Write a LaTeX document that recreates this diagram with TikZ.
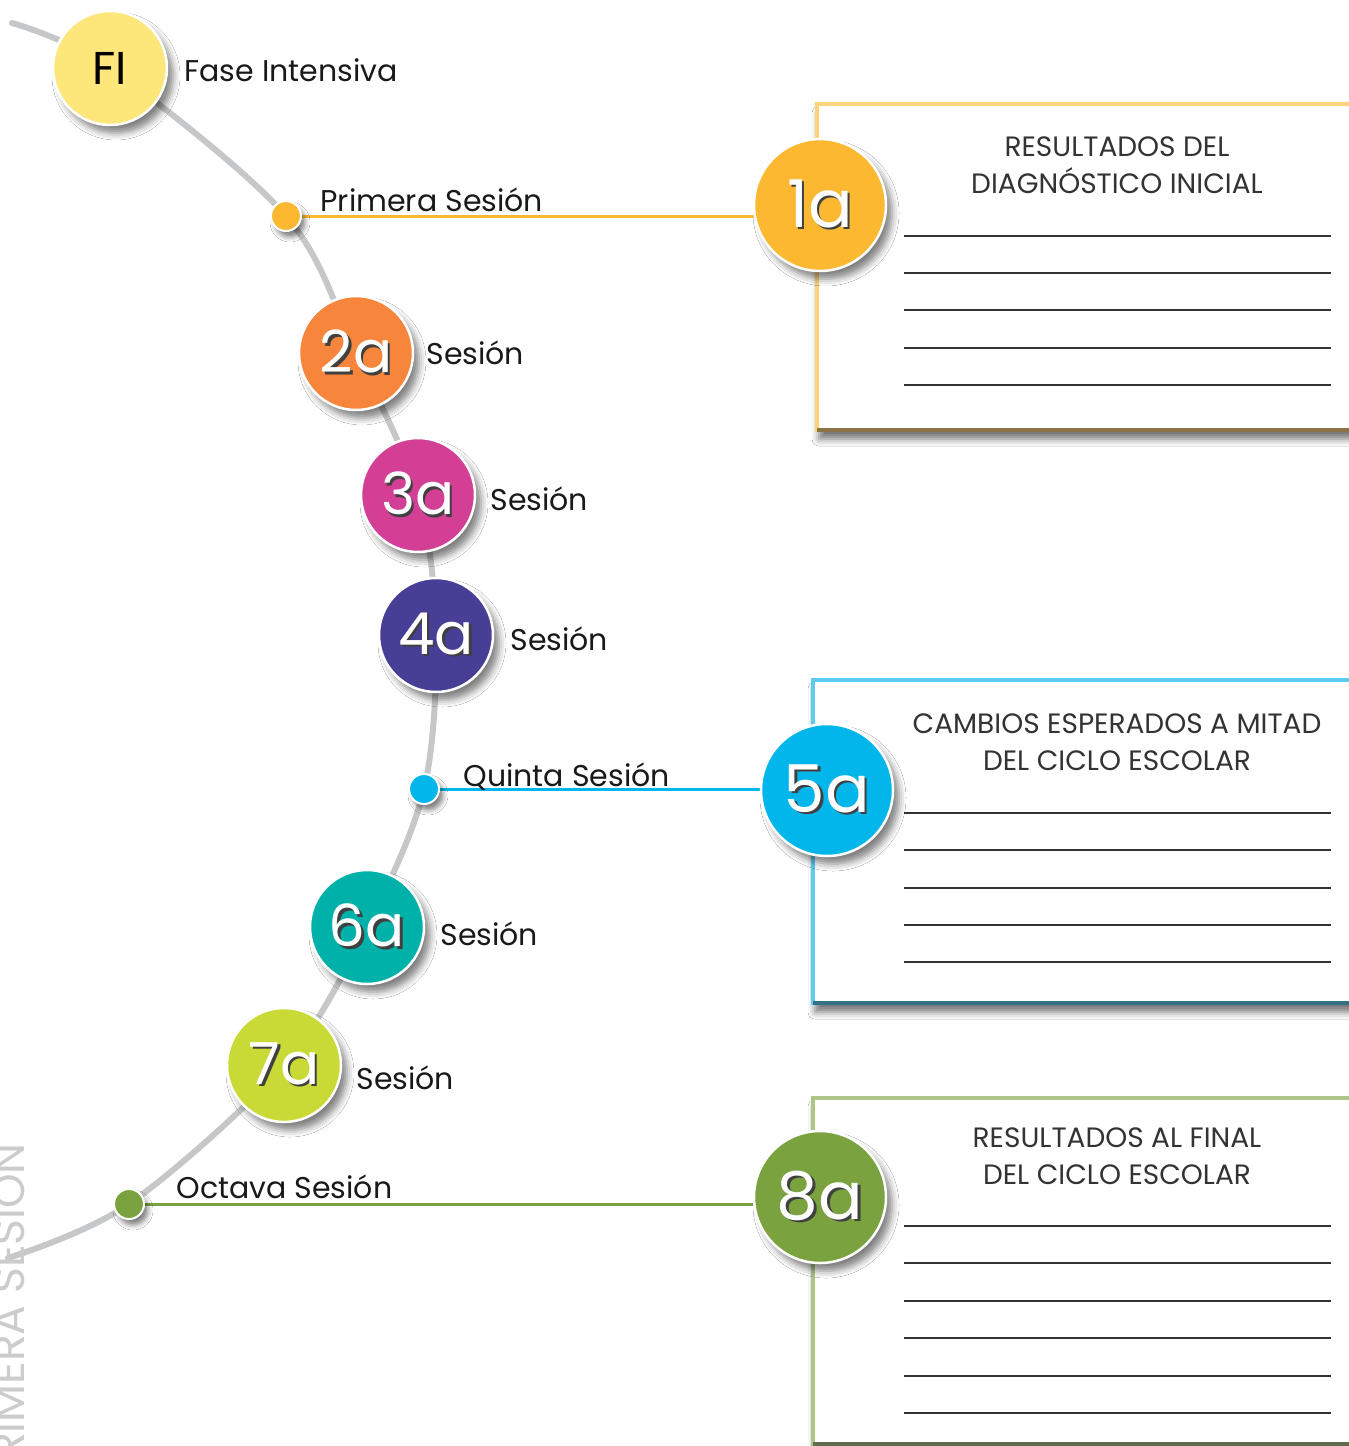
\documentclass[tikz,border=0pt]{standalone}
\usepackage{fontspec}
\setmainfont{Poppins}
\usetikzlibrary{positioning,shadows.blur,backgrounds}

\definecolor{spinegray}{HTML}{C6C7C9}
\definecolor{cFI}{HTML}{FDE67A}
\definecolor{cOne}{HTML}{FBB830}
\definecolor{cTwo}{HTML}{F7863C}
\definecolor{cThree}{HTML}{D23F95}
\definecolor{cFour}{HTML}{473E96}
\definecolor{cFive}{HTML}{00B6EB}
\definecolor{cSix}{HTML}{00B1A9}
\definecolor{cSeven}{HTML}{C9D935}
\definecolor{cEight}{HTML}{7AA23F}
\definecolor{bOne}{HTML}{FDD27A}
\definecolor{bFive}{HTML}{5CCBEF}
\definecolor{bEight}{HTML}{AEC588}
\definecolor{vgray}{HTML}{CCCCCC}

\newcommand\shnum[1]{\rlap{\kern2.5pt\raisebox{-2.5pt}{\color{black!75}#1}}#1}

\begin{document}
\begin{tikzpicture}[x=1pt,y=-1pt,
    spine/.style={line width=6pt,spinegray,line cap=round},
    link/.style={line width=3pt},
    sess/.style={circle,draw=white,line width=2.5pt,minimum size=114pt,inner sep=0pt,
        text=white,font=\fontsize{58}{58}\selectfont,
        blur shadow={shadow xshift=6pt,shadow yshift=-8pt,shadow blur radius=7pt,shadow opacity=50}},
    big/.style={sess,minimum size=132pt,font=\fontsize{66}{66}\selectfont},
    dot/.style={circle,draw=white,line width=2pt,minimum size=30pt,inner sep=0pt,
        blur shadow={shadow xshift=4pt,shadow yshift=-6pt,shadow blur radius=5pt,shadow opacity=50}},
    lbl/.style={inner sep=0pt,text=black!90,font=\fontsize{30}{30}\selectfont},
    card/.style={line width=4pt,fill=white,
        blur shadow={shadow xshift=2pt,shadow yshift=-9pt,shadow blur radius=7pt,shadow opacity=55}},
    cardtitle/.style={align=center,text=black!80,font=\fontsize{28}{37}\selectfont},
    rule/.style={line width=2pt,black!80}
    ]
\useasboundingbox (0,0) rectangle (1349,1446);

% vertical title on the left edge
\node[rotate=90,anchor=base east,inner sep=0pt,text=vgray,font=\fontsize{44}{44}\selectfont]
    (vtitle) at (24,1143) {PRIMERA SESIÓN};

% cards
\draw[card,draw=bOne] (817,104) rectangle (1380,430);
\draw[line width=4pt,bOne!55!black] (817,430) -- (1380,430);
\node[cardtitle] (t1) at (1117,165) {RESULTADOS DEL\\DIAGNÓSTICO INICIAL};
\foreach \y in {236,273,310,348,385}
    \draw[rule] (904,\y) -- (1331,\y);

\draw[card,draw=bFive] (813,680) rectangle (1380,1003);
\draw[line width=4pt,bFive!55!black] (813,1003) -- (1380,1003);
\node[cardtitle] (t5) at (1117,742) {CAMBIOS ESPERADOS A MITAD\\DEL CICLO ESCOLAR};
\foreach \y in {813,850,888,925,962}
    \draw[rule] (904,\y) -- (1331,\y);

\draw[card,draw=bEight] (813,1098) rectangle (1380,1444);
\draw[line width=4pt,bEight!55!black] (813,1444) -- (1380,1444);
\node[cardtitle] (t8) at (1117,1156) {RESULTADOS AL FINAL\\DEL CICLO ESCOLAR};
\foreach \y in {1226,1263,1301,1338,1376,1413}
    \draw[rule] (904,\y) -- (1331,\y);

% stations
\coordinate (sTop) at (12,23);
\coordinate (sEnd) at (8,1258);
\node[sess,fill=cFI,text=black,font=\fontsize{46}{46}\selectfont] (fi) at (110,68) {FI};
\node[dot,fill=cOne] (d1) at (286,216) {};
\node[big,fill=cOne] (c1) at (820,205) {\shnum{1a}};
\node[sess,fill=cTwo] (c2) at (356,353) {\shnum{2a}};
\node[sess,fill=cThree] (c3) at (418,495) {\shnum{3a}};
\node[sess,fill=cFour] (c4) at (436,635) {\shnum{4a}};
\node[dot,fill=cFive] (d5) at (424,789) {};
\node[big,fill=cFive] (c5) at (827,790) {\shnum{5a}};
\node[sess,fill=cSix] (c6) at (367,927) {\shnum{6a}};
\node[sess,fill=cSeven] (c7) at (284,1065) {\shnum{7a}};
\node[dot,fill=cEight] (d8) at (129,1204) {};
\node[big,fill=cEight] (c8) at (820,1197) {\shnum{8a}};

\node[lbl,right=16pt of fi,yshift=-2pt] (lfi) {Fase Intensiva};
\node[lbl,right=12pt of c2] (l2) {Sesión};
\node[lbl,right=14pt of c3,yshift=-4pt] (l3) {Sesión};
\node[lbl,right=16pt of c4,yshift=-4pt] (l4) {Sesión};
\node[lbl,right=15pt of c6,yshift=-7pt] (l6) {Sesión};
\node[lbl,right=14pt of c7,yshift=-13pt] (l7) {Sesión};

\begin{scope}[on background layer]
\fill[white] (0,0) rectangle (1349,1446);
\draw[spine] plot[smooth,tension=.55] coordinates {(sTop) (fi.center) (d1.center)
    (c2.center) (c3.center) (c4.center) (d5.center) (c6.center) (c7.center)
    (d8.center) (sEnd)};
\draw[link,cOne] (d1) -- node[lbl,pos=0,anchor=base west,xshift=17pt,yshift=5pt] (lp1) {Primera Sesión} (d1 -| c1.center);
\draw[link,cFive] (d5) -- node[lbl,pos=0,anchor=base west,xshift=22pt,yshift=3pt] (lp5) {Quinta Sesión} (d5 -| c5.center);
\draw[link,cEight] (d8) -- node[lbl,pos=0,anchor=base west,xshift=30pt,yshift=6pt] (lp8) {Octava Sesión} (d8 -| c8.center);
\end{scope}
\end{tikzpicture}
\end{document}
